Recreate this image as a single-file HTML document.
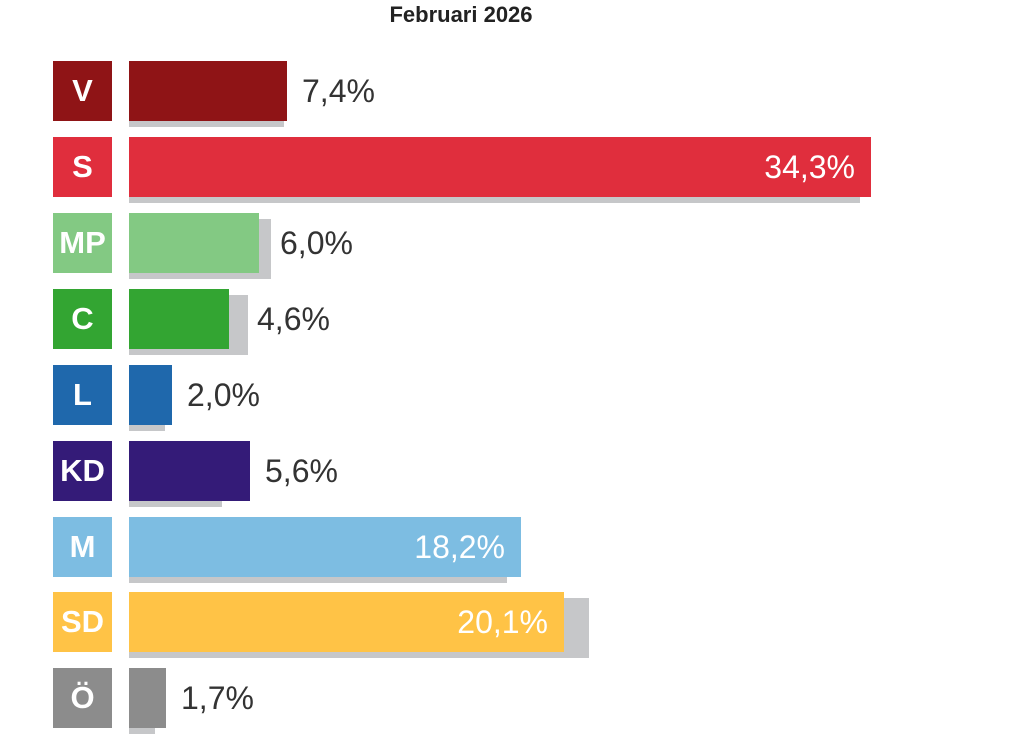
<!DOCTYPE html>
<html><head><meta charset="utf-8"><style>
body{margin:0;width:1024px;height:743px;background:#fff;position:relative;overflow:hidden;font-family:"Liberation Sans",sans-serif}
.t{position:absolute;top:2px;left:0;width:922px;text-align:center;font-weight:bold;font-size:22px;color:#222}
.b{position:absolute;width:59px;height:60px;color:#fff;font-weight:bold;font-size:31px;text-align:center;line-height:60px;left:53px}
.bar,.sh{position:absolute;height:60px;left:129px}
.sh{background:#c6c7c9}
.v{position:absolute;font-size:32px;line-height:60px;color:#333}
.in{color:#fff}
</style></head><body>
<div class="t">Februari 2026</div>
<div id="c"></div>
<script>
var d=[["V","#8f1416",287,284,"7,4%",0],["S","#e02e3d",871,860,"34,3%",1],["MP","#83c983",259,271,"6,0%",0],["C","#33a532",229,248,"4,6%",0],["L","#1f68ac",172,165,"2,0%",0],["KD","#341b78",250,222,"5,6%",0],["M","#7dbde2",521,507,"18,2%",1],["SD","#ffc346",564,589,"20,1%",1],["Ö","#8c8c8c",166,155,"1,7%",0]];
var ys=[61,137,213,289,365,441,517,592,668],h="";
d.forEach(function(r,i){var y=ys[i];
h+='<div class="sh" style="top:'+(y+6)+'px;width:'+(r[3]-129)+'px"></div>';
h+='<div class="bar" style="top:'+y+'px;width:'+(r[2]-129)+'px;background:'+r[1]+'"></div>';
h+='<div class="b" style="top:'+y+'px;background:'+r[1]+'">'+r[0]+'</div>';
if(r[5])h+='<div class="v in" style="top:'+y+'px;right:'+(1024-r[2]+16)+'px">'+r[4]+'</div>';
else h+='<div class="v" style="top:'+y+'px;left:'+(Math.max(r[2],r[3])+(r[3]>r[2]?-3:3)+12)+'px">'+r[4]+'</div>';});
document.getElementById("c").innerHTML=h;
</script>
</body></html>
